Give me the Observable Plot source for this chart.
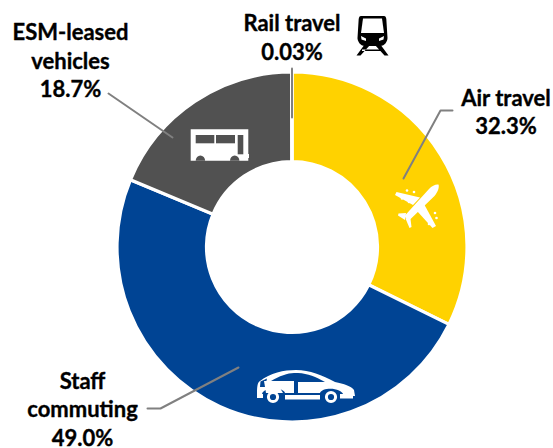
<!DOCTYPE html>
<html><head><meta charset="utf-8">
<style>html,body{margin:0;padding:0;background:#fff}svg{display:block}</style>
<script src="https://cdn.jsdelivr.net/npm/d3@7"></script>
<script src="https://cdn.jsdelivr.net/npm/@observablehq/plot@0.6"></script>
</head><body><script>
const categories = ["Air travel", "Staff commuting", "ESM-leased vehicles", "Rail travel"];
const shares = [32.3, 49.0, 18.7, 0.03];
const colours = ["#FFD200", "#004494", "#515151", "#808080"];
const labelLines = ["Air travel\n32.3%", "Staff\ncommuting\n49.0%", "ESM-leased\nvehicles\n18.7%", "Rail travel\n0.03%"];
const labelX = [505.5, 82, 70, 291.5];
const labelY = [110.5, 407.5, 59, 36];
const leaders = [
  [[452,110],[440,110],[403,178]],
  [[147,408],[160,408],[238,367]],
  [[108,93],[172,137]],
  [[291.5,68],[291.5,117]]
];
const rows = categories.map((name,i)=>({name,share:shares[i]}));
const cx=292, cy=247, R=175, r=85.5;

function icon(children){
  return () => {
    const g=d3.create("svg:g");
    for(const [tag,attrs] of children){
      const el=g.append("svg:"+tag);
      for(const k in attrs) el.attr(k,attrs[k]);
    }
    return g.node();
  };
}
const W="#fff", B="#515151", N="#004494", K="#000";
const busIcon=icon([
 ["path",{d:"M190.7 129.3H248.3V154H249V158H248.3V160.7H190.7Z",fill:W}],
 ["rect",{x:195.7,y:135,width:18.6,height:8.3,fill:B}],
 ["rect",{x:216,y:135,width:19,height:8.3,fill:B}],
 ["rect",{x:237.7,y:135,width:5.6,height:19.3,fill:B}],
 ["path",{d:"M195.7 160.7a4.7 5.2 0 0 1 9.4 0Z",fill:B}],
 ["path",{d:"M230 160.7a4.7 5.2 0 0 1 9.4 0Z",fill:B}]
]);
const carIcon=icon([
 ["path",{d:"M257 392C257 385 258 382 260 381C270 373 284 370 296 370C310 370 322 375 335 382C344 384 351 386 354 390L355 396L344 396C342 387 322 387 320 393H285C283 387 264 387 262 394L257 395Z",fill:W}],
 ["path",{d:"M271 381C279 376 288 373 294 373V381Z",fill:N}],
 ["path",{d:"M298 373C308 373.5 316 377 325 382H298Z",fill:N}],
 ["rect",{x:294,y:373,width:4,height:20,fill:N}],
 ["path",{d:"M260.5 381.5L267 378.5L265 387H260Z",fill:N}],
 ["path",{d:"M266 393L264 381H276L283 393Z",fill:W}],
 ["rect",{x:285,y:395,width:35,height:4.5,fill:W}],
 ["path",{d:"M257 394H263V398H257Z",fill:W}],
 ["circle",{cx:273,cy:397,r:4.6,fill:N,stroke:W,"stroke-width":3}],
 ["circle",{cx:331,cy:397,r:4.6,fill:N,stroke:W,"stroke-width":3}],
 ["path",{d:"M340 394H353V398.5H340Z",fill:W}]
]);
const planeIcon=icon([
 ["path",{d:"M438.5 184.5C436 184 432 185.5 429 189L404.5 216L408 221.5L434.5 196C438 192 439.5 187 438.5 184.5Z",fill:W}],
 ["path",{d:"M406 213L398.5 213.5L398 215.5L405 220Z",fill:W}],
 ["path",{d:"M405.5 218.5L409.5 228L411.5 227L410.5 219Z",fill:W}],
 ["path",{d:"M420 197.5L396.5 192L395 195L413 205Z",fill:W}],
 ["path",{d:"M424 204L436 226L432.5 228L417 211Z",fill:W}],
 ["circle",{cx:407,cy:190.5,r:1.3,fill:W}],
 ["circle",{cx:414,cy:192,r:1.3,fill:W}],
 ["circle",{cx:402,cy:198.5,r:1.3,fill:W}],
 ["circle",{cx:409,cy:202,r:1.3,fill:W}],
 ["circle",{cx:435,cy:213,r:1.3,fill:W}],
 ["circle",{cx:436.5,cy:218,r:1.3,fill:W}],
 ["circle",{cx:426,cy:218,r:1.3,fill:W}],
 ["circle",{cx:429,cy:224,r:1.3,fill:W}]
]);
const railIcon=icon([
 ["path",{d:"M361 16H384C385.5 16 386 17 386.3 19L387.5 38C387.5 41 385 46 380 46H365C360 46 357.5 41 357.5 38L358.7 19C359 17 359.5 16 361 16Z",fill:K}],
 ["path",{d:"M363 18.5H382L384 33H361Z",fill:W}],
 ["path",{d:"M361 36L366 38.5V41L361.5 39.5ZM384 36L379 38.5V41L383.5 39.5Z",fill:W}],
 ["path",{d:"M365 44L356.5 55.5H360.5L370 45ZM380 44L388.5 55.5H384.5L375 45ZM362 49.5H383V51H362Z",fill:K}]
]);

const donut=Plot.barX(rows, Plot.stackX({
  x:"share", fill:"name", order:null,
  render(index,scales,values){
    const g=d3.create("svg:g").attr("transform",`translate(${cx},${cy})`);
    const arc=d3.arc().innerRadius(r).outerRadius(R);
    for(const i of index){
      g.append("path")
       .attr("d",arc({startAngle:values.x1[i],endAngle:values.x2[i]}))
       .attr("fill",values.fill[i])
       .attr("stroke","#fff").attr("stroke-width",3.2).attr("stroke-linejoin","miter");
    }
    return g.node();
  }
}));

const font="Lato, Carlito, Calibri, sans-serif";
const chart=Plot.plot({
  width:553,height:448,margin:0,
  style:{background:"#fff",fontFamily:font},
  x:{domain:[0,d3.sum(shares)],range:[0,2*Math.PI],axis:null},
  color:{domain:categories,range:colours,legend:false},
  marks:[
    donut,
    busIcon,carIcon,planeIcon,railIcon,
    ...leaders.map(pts=>Plot.line(pts,{
      x:{value:d=>d[0],scale:null}, y:{value:d=>d[1],scale:null},
      stroke:"#808080",strokeWidth:2,curve:"linear"
    })),
    ...labelLines.map((t,i)=>Plot.text([t],{
      text:d=>d, frameAnchor:"top-left", dx:labelX[i], dy:labelY[i],
      textAnchor:"middle", lineAnchor:"middle", lineHeight:1.3,
      fontSize:22, fontWeight:700, fill:"#000", stroke:"#000", strokeWidth:0.35
    }))
  ]
});
document.body.append(chart);
</script></body></html>
